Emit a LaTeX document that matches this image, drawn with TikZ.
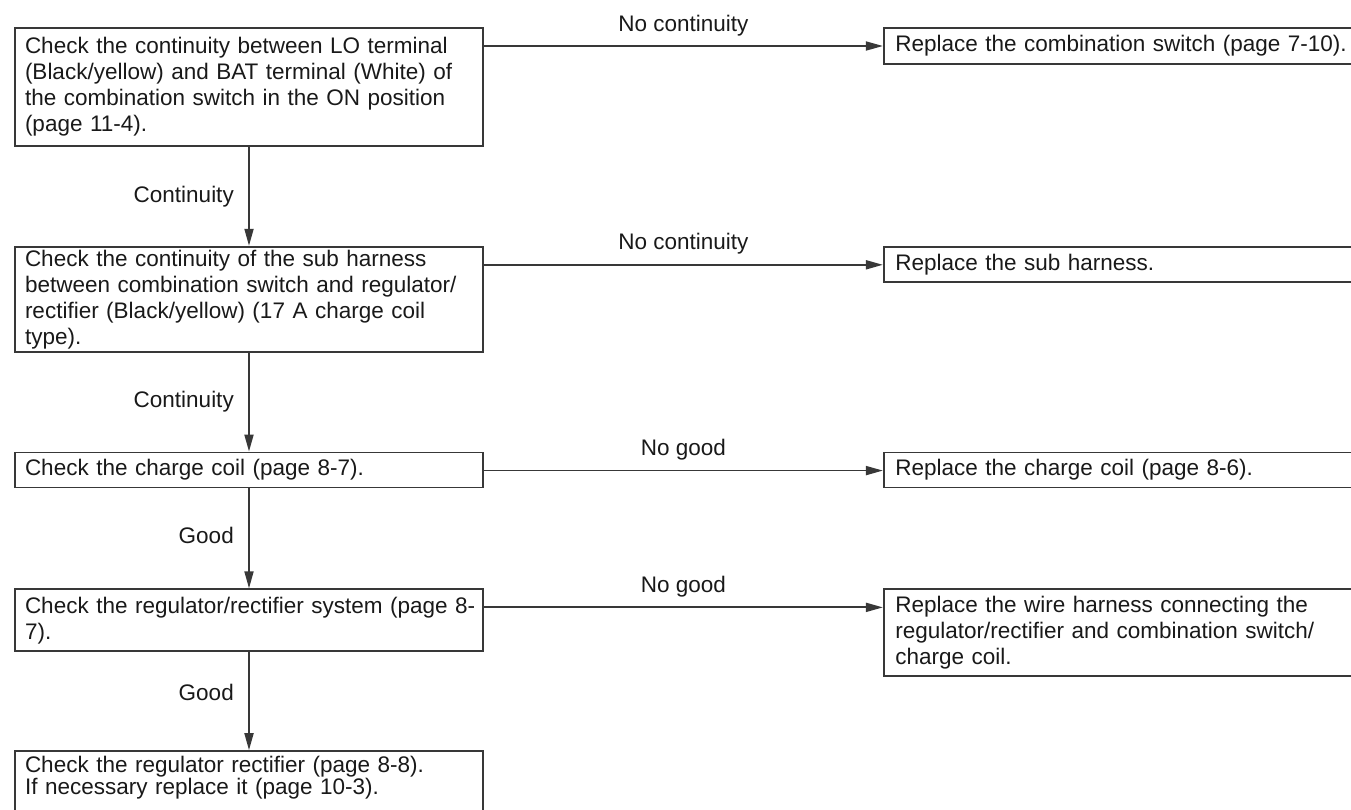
\documentclass[tikz,border=0pt]{standalone}
\usepackage{fontspec}
\setmainfont{Liberation Sans}
\usetikzlibrary{arrows.meta, positioning}

\begin{document}
\begin{tikzpicture}[
    x=1pt, y=-1pt,
    node distance=99pt and 399pt,
    box/.style={draw=black!78, line width=1.8pt, rectangle, inner xsep=10pt, inner ysep=3pt, align=left, text=black!90, font=\fontsize{22.5}{26}\selectfont},
    checkbox/.style={box, text width=448pt},
    fixbox/.style={box, inner xsep=11.5pt, text width=480pt},
    lbl/.style={text=black!90, font=\fontsize{22.5}{26}\selectfont},
    arrow/.style={draw=black!78, line width=1.8pt, -{Triangle[length=17pt,width=9pt]}}
]
    \useasboundingbox (0,0) rectangle (1351,809);
    \clip (0,0) rectangle (1351,809);

    \node[checkbox, minimum height=118pt, anchor=north] (b1) at (249,27) {Check the continuity between LO terminal\\(Black/yellow) and BAT terminal (White) of\\the combination switch in the ON position\\(page 11-4).};
    \node[checkbox, minimum height=104pt, below=of b1] (b2) {Check the continuity of the sub harness\\between combination switch and regulator/\\rectifier (Black/yellow) (17 A charge coil\\type).};
    \node[checkbox, minimum height=35pt, below=of b2] (b3) {Check the charge coil (page 8-7).};
    \node[checkbox, minimum height=62pt, below=100pt of b3] (b4) {\mbox{Check the regulator/rectifier system (page 8-}\\7).};
    \node[checkbox, text height=18pt, text depth=60pt, font=\fontsize{22.5}{20}\selectfont, below=98pt of b4] (b5) {Check the regulator rectifier (page 8-8).\\If necessary replace it (page 10-3).};

    \node[fixbox, minimum height=36pt, right=of b1.north east, anchor=north west] (r1) {Replace the combination switch (page 7-10).};
    \node[fixbox, minimum height=35pt, right=of b2.north east, anchor=north west] (r2) {Replace the sub harness.};
    \node[fixbox, minimum height=35pt, right=of b3.north east, anchor=north west] (r3) {Replace the charge coil (page 8-6).};
    \node[fixbox, minimum height=87pt, right=of b4.north east, anchor=north west] (r4) {Replace the wire harness connecting the\\regulator/rectifier and combination switch/\\charge coil.};

    \draw[arrow] (b1) -- node[lbl, left=11pt] {Continuity} (b2);
    \draw[arrow] (b2) -- node[lbl, left=11pt] {Continuity} (b3);
    \draw[arrow] (b3) -- node[lbl, left=11pt, pos=0.47] {Good} (b4);
    \draw[arrow] (b4) -- node[lbl, left=11pt, pos=0.41] {Good} (b5);

    \coordinate (n1) at ([yshift=-19pt]b1.north east);
    \coordinate (n2) at ([yshift=-19pt]b2.north east);
    \coordinate (n3) at ([yshift=-19pt]b3.north east);
    \coordinate (n4) at ([yshift=-19pt]b4.north east);

    \draw[arrow] (n1) -- node[lbl, above, yshift=6pt] {No continuity} (n1 -| r1.west);
    \draw[arrow] (n2) -- node[lbl, above, yshift=6pt] {No continuity} (n2 -| r2.west);
    \draw[arrow] (n3) -- node[lbl, above, yshift=6pt] {No good} (n3 -| r3.west);
    \draw[arrow] (n4) -- node[lbl, above, yshift=6pt] {No good} (n4 -| r4.west);

\end{tikzpicture}
\end{document}
